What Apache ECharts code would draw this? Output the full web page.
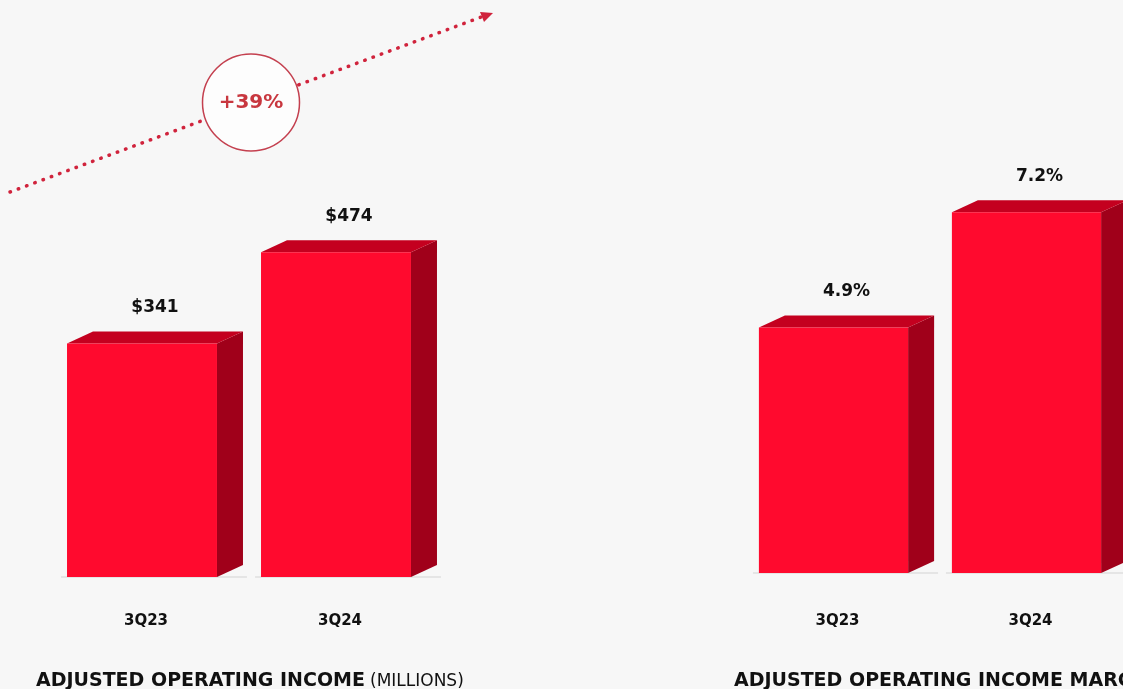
<!DOCTYPE html>
<html>
<head>
<meta charset="utf-8">
<script src="https://cdn.jsdelivr.net/npm/echarts@6/dist/echarts.min.js"></script>
<style>
  html, body { margin: 0; padding: 0; background: #f7f7f7; }
  #chart { width: 1123px; height: 689px; }
</style>
</head>
<body>
<div id="chart"></div>
<script>
const quarters = ['3Q23', '3Q24']
const incomeValues = [341, 474]
const marginValues = [4.9, 7.2]
const growthLabel = '+39%'

const FRONT = '#ff0a2e'
const TOP = '#c4001f'
const SIDE = '#a0001a'
const DEPTH_X = 26
const DEPTH_Y = 12
const BAR_RATIO = 0.773
const FONT = 'DejaVu Sans'

// fake 3d bar: front face + top + right side, value label above
function makeRender(fmt) {
  return function (params, api) {
    const idx = api.value(0)
    const val = api.value(1)
    const top = api.coord([idx, val])
    const base = api.coord([idx, 0])
    const w = api.size([1, 0])[0] * BAR_RATIO
    const x0 = top[0] - w / 2
    const x1 = top[0] + w / 2
    const yt = top[1]
    const yb = base[1]
    return {
      type: 'group',
      children: [
        {
          type: 'line',
          shape: { x1: x0 - 6, y1: yb, x2: x1 + DEPTH_X + 4, y2: yb },
          style: { stroke: 'rgba(0,0,0,0.07)', lineWidth: 2 },
        },
        {
          type: 'polygon',
          shape: { points: [[x1, yt], [x1 + DEPTH_X, yt - DEPTH_Y], [x1 + DEPTH_X, yb - DEPTH_Y], [x1, yb]] },
          style: { fill: SIDE },
        },
        {
          type: 'polygon',
          shape: { points: [[x0, yt], [x0 + DEPTH_X, yt - DEPTH_Y], [x1 + DEPTH_X, yt - DEPTH_Y], [x1, yt]] },
          style: { fill: TOP },
        },
        {
          type: 'rect',
          shape: { x: x0, y: yt, width: w, height: yb - yt },
          style: { fill: FRONT },
        },
        {
          type: 'text',
          x: top[0] + DEPTH_X / 2,
          y: yt - 36,
          style: {
            text: fmt(val),
            align: 'center',
            verticalAlign: 'middle',
            fill: '#111',
            font: 'bold 17px "' + FONT + '"',
          },
        },
      ],
    }
  }
}

const chart = echarts.init(document.getElementById('chart'))

const axisLabel = {
  color: '#111',
  fontFamily: FONT,
  fontWeight: 'bold',
  fontSize: 15,
  padding: [0, 0, 0, 8],
}

chart.setOption({
  backgroundColor: '#f7f7f7',
  animation: false,
  grid: [
    { left: 45, width: 388, top: 166, height: 411 },
    { left: 737, width: 388, top: 72, height: 501 },
  ],
  xAxis: [
    {
      type: 'category', gridIndex: 0, data: quarters,
      axisLine: { show: false }, axisTick: { show: false },
      axisLabel: Object.assign({ margin: 37 }, axisLabel),
    },
    {
      type: 'category', gridIndex: 1, data: quarters,
      axisLine: { show: false }, axisTick: { show: false },
      axisLabel: Object.assign({ margin: 41 }, axisLabel),
    },
  ],
  yAxis: [
    { type: 'value', gridIndex: 0, min: 0, max: 600, show: false, splitLine: { show: false } },
    { type: 'value', gridIndex: 1, min: 0, max: 10, show: false, splitLine: { show: false } },
  ],
  title: [
    {
      left: 31, top: 667,
      text: '{b|ADJUSTED OPERATING INCOME} {n|(MILLIONS)}',
      textStyle: {
        rich: {
          b: { fontFamily: FONT, fontWeight: 'bold', fontSize: 19, color: '#111' },
          n: { fontFamily: FONT, fontWeight: 'normal', fontSize: 17, color: '#111' },
        },
      },
    },
    {
      left: 729, top: 667,
      text: 'ADJUSTED OPERATING INCOME MARGIN',
      textStyle: { fontFamily: FONT, fontWeight: 'bold', fontSize: 19, color: '#111' },
    },
  ],
  graphic: [
    {
      type: 'polyline',
      z: 10,
      shape: { points: [[10, 192], [484, 16]] },
      style: { stroke: '#d0233c', lineWidth: 3.5, lineDash: [0.5, 8.3], lineCap: 'round', fill: null },
    },
    {
      type: 'polygon',
      z: 10,
      shape: { points: [[493, 13], [480, 12], [484, 22]] },
      style: { fill: '#d0233c' },
    },
    {
      type: 'circle',
      z: 11,
      shape: { cx: 251, cy: 102.5, r: 48.5 },
      style: { fill: '#fdfdfd', stroke: '#c4404f', lineWidth: 1.5 },
    },
    {
      type: 'text',
      z: 12,
      x: 251, y: 103,
      style: {
        text: growthLabel,
        align: 'center', verticalAlign: 'middle',
        fill: '#c8373f',
        font: 'bold 20px "' + FONT + '"',
      },
    },
  ],
  series: [
    {
      type: 'custom', xAxisIndex: 0, yAxisIndex: 0,
      renderItem: makeRender((v) => '$' + v),
      encode: { x: 0, y: 1 },
      data: incomeValues.map((v, i) => [i, v]),
    },
    {
      type: 'custom', xAxisIndex: 1, yAxisIndex: 1,
      renderItem: makeRender((v) => v.toFixed(1) + '%'),
      encode: { x: 0, y: 1 },
      data: marginValues.map((v, i) => [i, v]),
    },
  ],
})
</script>
</body>
</html>
